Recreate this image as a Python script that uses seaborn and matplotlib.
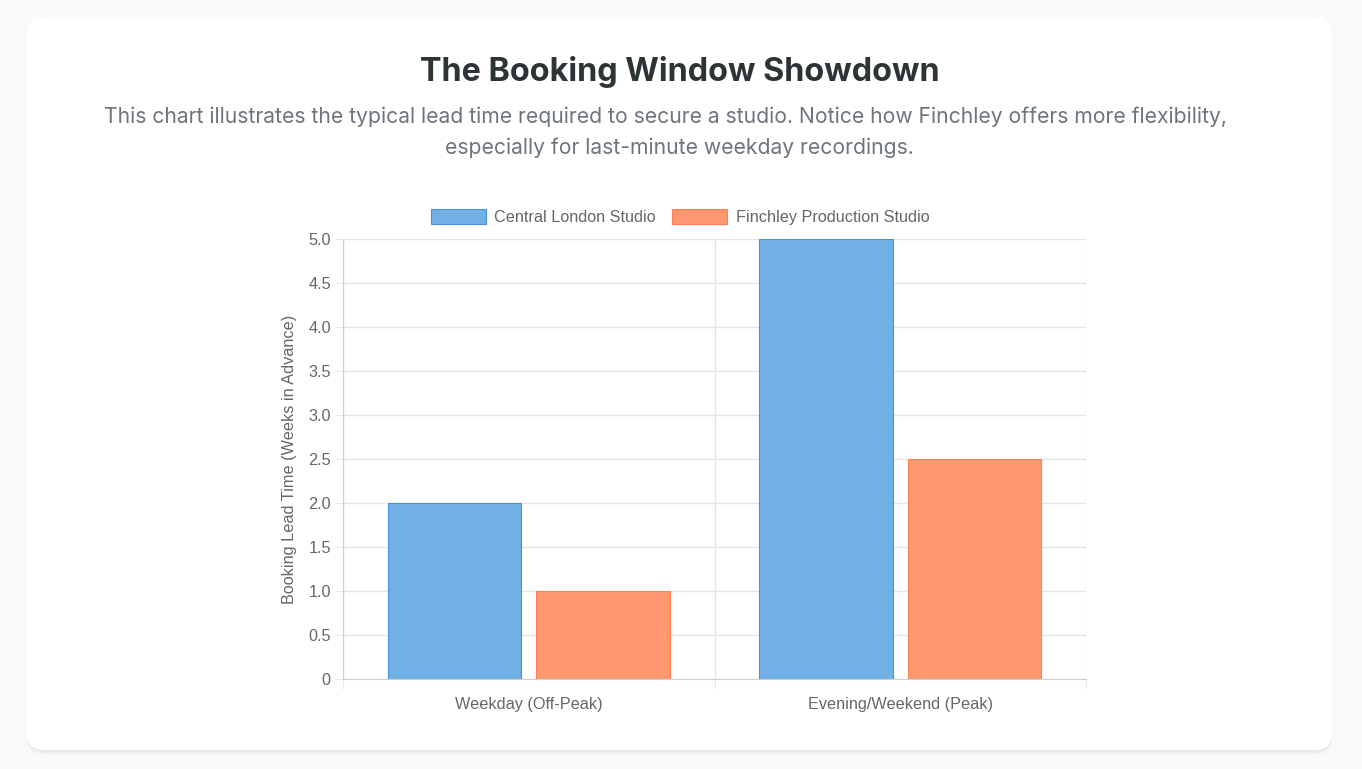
import matplotlib
matplotlib.use("Agg")
import matplotlib.pyplot as plt
from matplotlib.patches import FancyBboxPatch, Patch
from matplotlib.ticker import FixedLocator
import seaborn as sns
import pandas as pd

categories = ["Weekday (Off-Peak)", "Evening/Weekend (Peak)"]
central_london = [2.0, 5.0]
finchley = [1.0, 2.5]
series_names = ["Central London Studio", "Finchley Production Studio"]
y_ticks = [0, 0.5, 1.0, 1.5, 2.0, 2.5, 3.0, 3.5, 4.0, 4.5, 5.0]

df = pd.DataFrame({
    "category": categories * 2,
    "value": central_london + finchley,
    "studio": [series_names[0]] * 2 + [series_names[1]] * 2,
})

W, H = 1362, 769
fig = plt.figure(figsize=(W / 100, H / 100), dpi=100)
fig.patch.set_facecolor("#f8f9fa")

# card with shadow
for i, a in enumerate([0.03, 0.025, 0.02]):
    off = (i + 1) * 1.5
    sh = FancyBboxPatch((27 / W, (769 - 750 - off) / H), 1305 / W, 733 / H,
                        boxstyle="round,pad=0,rounding_size=0.012",
                        transform=fig.transFigure, facecolor="black", alpha=a,
                        edgecolor="none", zorder=0, mutation_aspect=W / H)
    fig.patches.append(sh)
card = FancyBboxPatch((27 / W, (769 - 750) / H), 1305 / W, 733 / H,
                      boxstyle="round,pad=0,rounding_size=0.012",
                      transform=fig.transFigure, facecolor="white",
                      edgecolor="none", zorder=1, mutation_aspect=W / H)
fig.patches.append(card)

fig.text(680 / W, 1 - 72.5 / H, "The Booking Window Showdown", ha="center", va="center",
         fontsize=23.3, fontweight="bold", color="#2d3436", family=["Inter", "DejaVu Sans"])
fig.text(666 / W, 1 - 116.5 / H,
         "This chart illustrates the typical lead time required to secure a studio. Notice how Finchley offers more flexibility,",
         ha="center", va="center", fontsize=15.2, color="#6c757d", family=["Inter", "DejaVu Sans"])
fig.text(679 / W, 1 - 147.5 / H, "especially for last-minute weekday recordings.",
         ha="center", va="center", fontsize=15.2, color="#6c757d", family=["Inter", "DejaVu Sans"])

ax = fig.add_axes([343 / W, (769 - 679) / H, 743 / W, 440 / H])
ax.set_facecolor("none")
ax.set_zorder(3)

fills = ["#71B0E4", "#FF9871"]
edges = ["#4A90E2", "#FF7F50"]
sns.barplot(data=df, x="category", y="value", hue="studio", order=categories,
            hue_order=series_names, palette=fills, width=0.8, gap=0.1,
            ax=ax, legend=False, saturation=1)
for bar, ec in zip(ax.patches, [edges[0]] * 2 + [edges[1]] * 2):
    bar.set_edgecolor(ec)
    bar.set_linewidth(0.8)

ax.set_xlim(-0.5, 1.5)
ax.set_ylim(0, 5.0)
grid_c = "#e5e5e5"
ax.yaxis.set_major_locator(FixedLocator(y_ticks))
ax.set_yticklabels(["0" if v == 0 else f"{v:.1f}" for v in y_ticks])
ax.xaxis.set_minor_locator(FixedLocator([-0.5, 0.5, 1.5]))
ax.grid(axis="y", which="major", color=grid_c, linewidth=1)
ax.grid(axis="x", which="minor", color=grid_c, linewidth=1)
ax.grid(axis="x", which="major", visible=False)
ax.set_axisbelow(True)
ax.tick_params(axis="y", length=5.8, color=grid_c, labelsize=11.7, labelcolor="#666666", pad=3)
ax.tick_params(axis="x", which="major", length=0, labelsize=11.7, labelcolor="#666666", pad=13)
ax.tick_params(axis="x", which="minor", length=7.2, color=grid_c)
for lab in ax.get_xticklabels() + ax.get_yticklabels():
    lab.set_family(["Liberation Sans", "DejaVu Sans"])
for s in ["top", "right"]:
    ax.spines[s].set_visible(False)
ax.spines["left"].set_color("#d0d0d0")
ax.spines["bottom"].set_color("#d0d0d0")
ax.set_xlabel("")
ax.set_ylabel("Booking Lead Time (Weeks in Advance)", fontsize=11.7, color="#666666",
              family=["Liberation Sans", "DejaVu Sans"], labelpad=8)

handles = [Patch(facecolor=fills[i], edgecolor=edges[i], linewidth=0.8) for i in range(2)]
leg = fig.legend(handles, series_names, loc="center", bbox_to_anchor=(680 / W, 1 - 217 / H),
                 ncol=2, frameon=False, handlelength=3.4, handleheight=1.0,
                 columnspacing=1.0, handletextpad=0.5,
                 prop={"family": ["Liberation Sans", "DejaVu Sans"], "size": 11.7})
for t in leg.get_texts():
    t.set_color("#666666")
leg.set_zorder(5)

fig.savefig("out.png", dpi=100, facecolor=fig.get_facecolor())
